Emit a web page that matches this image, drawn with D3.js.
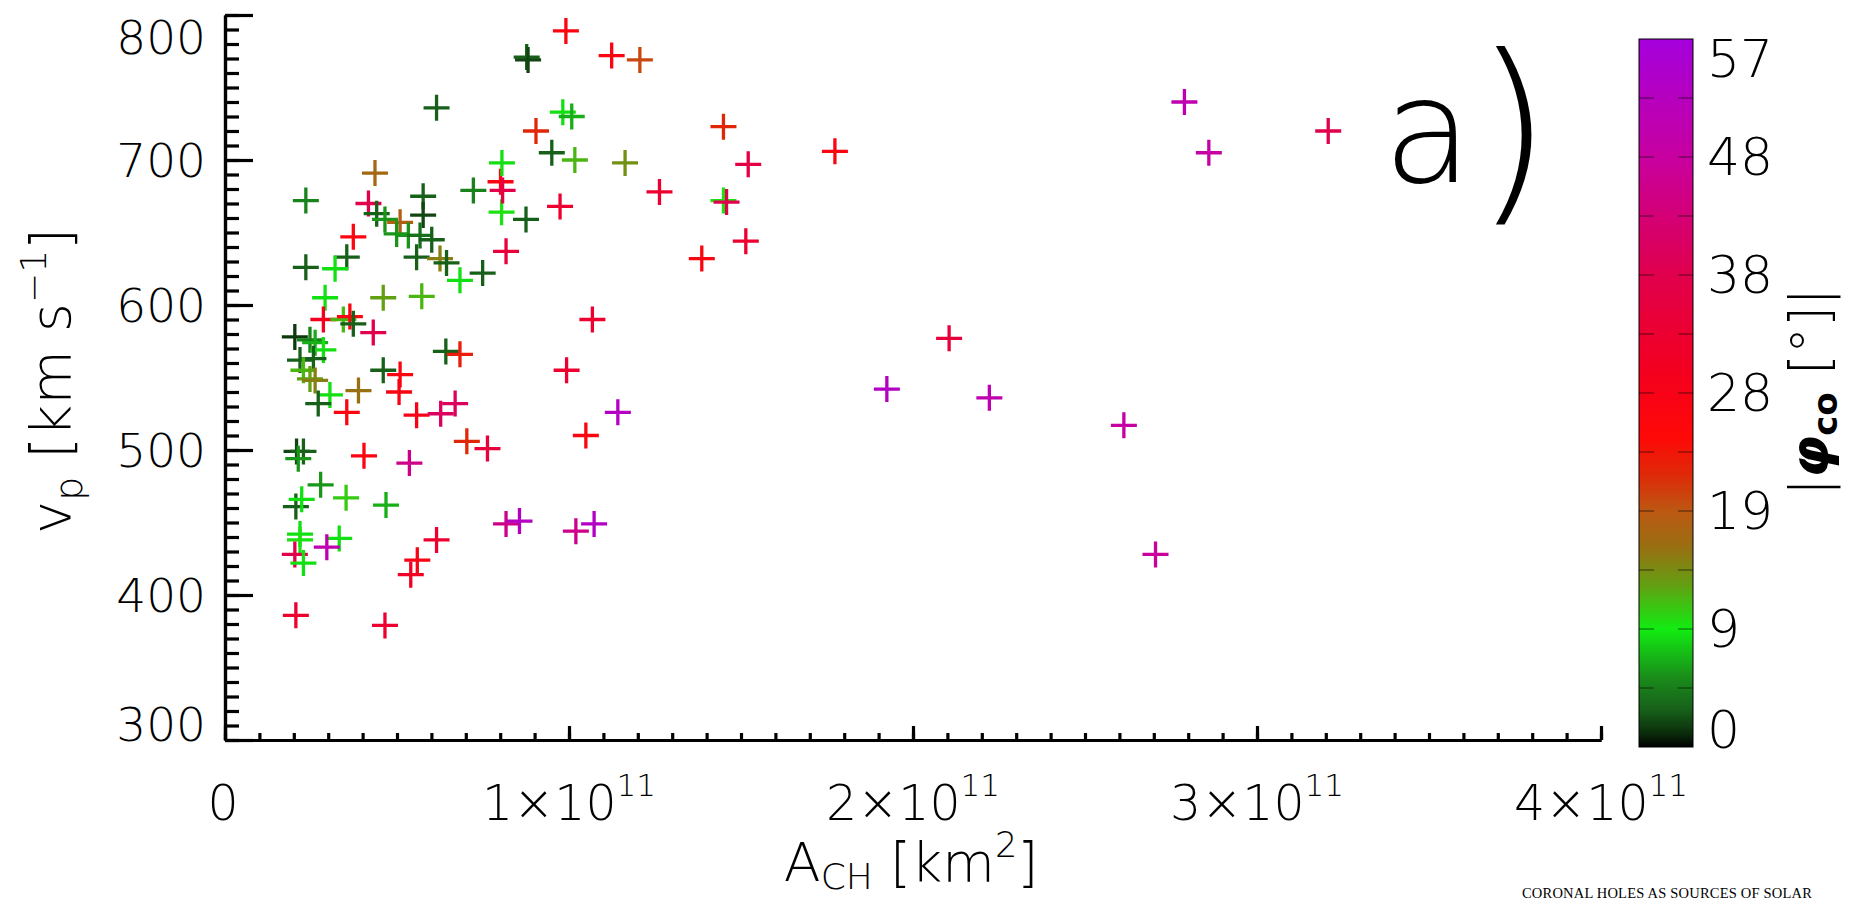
<!DOCTYPE html>
<html>
<head>
<meta charset="utf-8">
<script src="https://cdn.jsdelivr.net/npm/d3@7"></script>
<style>
body { margin: 0; background: #fff; }
text { font-family: "DejaVu Sans", sans-serif; font-weight: 200; fill: #000; }
</style>
</head>
<body>
<svg id="chart" width="1853" height="903"></svg>
<script>
// coronal hole area in units of 1e10 km^2
var area = [6.15, 4.36, 2.35, 4.17, 4.41, 5.76, 5.76, 4.65, 5.09, 4.99, 5.33, 5.67, 6.01, 3.73, 3.54, 3.20, 2.35, 5.57, 6.25, 6.44,
  6.83, 7.49, 7.22, 8.01, 8.05, 8.04, 2.91, 4.60, 5.72, 9.91, 8.77, 8.81, 11.24, 12.06, 9.82, 10.08, 9.04, 9.50, 10.17, 11.63,
  8.07, 8.75, 9.74, 8.17, 12.63, 14.49, 15.21, 14.49, 14.58, 13.86, 15.14, 2.86, 3.44, 3.63, 3.73, 4.31, 2.03, 2.47, 2.62, 2.86,
  2.18, 2.57, 2.28, 2.47, 2.62, 3.05, 3.88, 2.71, 3.54, 4.60, 5.09, 5.06, 6.42, 6.83, 5.57, 6.27, 6.69, 7.03, 7.63, 2.08,
  2.28, 2.13, 4.04, 5.36, 2.78, 3.52, 4.68, 2.06, 2.23, 2.18, 2.18, 3.32, 2.96, 2.03, 2.28, 6.15, 5.59, 5.40, 8.17, 2.06,
  4.65, 10.68, 9.93, 11.42, 10.49, 8.56, 10.20, 10.73, 17.73, 27.89, 28.60, 32.07, 21.05, 19.24, 22.22, 26.13, 27.05];
// peak solar wind speed, km/s
var speed = [736, 691, 672, 670, 663, 675, 662, 659, 657, 649, 648, 648, 645, 647, 633, 625, 626, 633, 632, 629,
  617, 622, 679, 685, 698, 664, 605, 605, 606, 789, 771, 769, 772, 769, 733, 730, 720, 705, 700, 698,
  679, 659, 668, 637, 678, 723, 697, 672, 671, 632, 644, 590, 590, 592, 587, 581, 578, 576, 574, 569,
  562, 563, 555, 549, 548, 538, 541, 532, 526, 555, 552, 540, 568, 566, 524, 525, 532, 506, 501, 499,
  499, 494, 496, 491, 476, 467, 462, 461, 466, 442, 438, 439, 433, 428, 422, 438, 424, 414, 449, 386,
  379, 590, 555, 526, 510, 451, 444, 449, 706, 740, 705, 720, 577, 542, 536, 517, 428];
// |phi_co| in degrees
var phi = [3, 17, 5, 38, 3, 3, 2, 6, 18, 6, 6, 4, 3, 27, 3, 9, 3, 3, 15, 3,
  9, 3, 5, 27, 9, 10, 9, 13, 12, 27, 3, 2, 27, 20, 9, 7, 22, 3, 12, 14,
  37, 3, 33, 35, 33, 22, 37, 10, 38, 27, 33, 30, 12, 27, 3, 38, 1.5, 5, 7, 9,
  3, 3, 12, 13, 15, 9, 16, 3, 27, 3, 27, 28, 3, 23, 28, 40, 40, 22, 35, 2,
  3, 6, 27, 45, 6, 11, 7, 3, 9, 9, 10, 9, 50, 38, 9, 33, 28, 31, 45, 33,
  33, 33, 33, 53, 27, 53, 45, 53, 27, 50, 48, 38, 35, 53, 50, 48, 47];

var xTicks = [0, 10, 20, 30, 40];
var yTicks = [300, 400, 500, 600, 700, 800];
var cbTicks = [0, 9.5, 19, 28.5, 38, 47.5, 57];
var cbLabels = ["0", "9", "19", "28", "38", "48", "57"];

// colour table of the colorbar
var rampStops = [0, 1.2, 3, 5.5, 9.5, 13, 16, 19, 22, 25, 30, 38, 47.5, 57];
var rampColors = ["#000000", "#0c300c", "#17601a", "#1a8a1a", "#12ec12", "#62a012", "#987012", "#bc5812",
  "#e02808", "#ff0808", "#f4001e", "#e0004c", "#c800a0", "#a400dc"];

var svg = d3.select("#chart");
svg.append("rect").attr("width", 1853).attr("height", 903).attr("fill", "#fff");

var x = d3.scaleLinear().domain([0, 40]).range([225, 1601]);
var y = d3.scaleLinear().domain([300, 800]).range([740, 15]);
var color = d3.scaleLinear().domain(rampStops).range(rampColors);

// y axis, ticks pointing in
svg.append("g").attr("transform", "translate(225,0)")
  .call(d3.axisRight(y).tickValues(d3.range(300, 801, 10)).tickSize(14).tickSizeOuter(0).tickFormat(""));
svg.append("g").attr("transform", "translate(225,0)")
  .call(d3.axisRight(y).tickValues(yTicks).tickSize(28).tickSizeOuter(0).tickFormat(""));
// x axis, ticks pointing up
svg.append("g").attr("transform", "translate(0,740)")
  .call(d3.axisTop(x).tickValues(d3.range(0, 41, 1)).tickSize(7).tickSizeOuter(0).tickFormat(""));
svg.append("g").attr("transform", "translate(0,740)")
  .call(d3.axisTop(x).tickValues(xTicks).tickSize(14).tickSizeOuter(0).tickFormat(""));

svg.selectAll(".domain").attr("stroke", "#000").attr("stroke-width", 3.2);
svg.selectAll(".tick line").attr("stroke", "#000").attr("stroke-width", 3.2);

// y tick labels
svg.append("g").selectAll("text").data(yTicks).join("text")
  .attr("x", 206)
  .attr("y", d => y(d) + (d === 800 ? 22 : d === 300 ? -16 : 0))
  .attr("dominant-baseline", "central")
  .attr("text-anchor", "end")
  .attr("font-size", 47)
  .text(d => d);

// x tick labels
svg.append("g").selectAll("text").data(xTicks).join("text")
  .attr("x", d => x(d) - (d === 0 ? 2 : 0))
  .attr("y", 820)
  .attr("text-anchor", "middle")
  .attr("font-size", 49)
  .each(function(d) {
    var t = d3.select(this);
    if (d === 0) { t.text("0"); return; }
    t.append("tspan").text((d / 10) + "×10");
    t.append("tspan").attr("dy", -24).attr("font-size", 31).text("11");
  });

// axis titles
var xt = svg.append("text").attr("x", 911).attr("y", 881).attr("text-anchor", "middle").attr("font-size", 54);
xt.append("tspan").text("A");
xt.append("tspan").attr("dy", 8).attr("font-size", 36).text("CH");
xt.append("tspan").attr("dy", -8).text(" [km");
xt.append("tspan").attr("dy", -24).attr("font-size", 35).text("2");
xt.append("tspan").attr("dy", 24).text("]");

var yt = svg.append("text").attr("transform", "translate(70,381) rotate(-90)")
  .attr("text-anchor", "middle").attr("font-size", 56);
yt.append("tspan").text("v");
yt.append("tspan").attr("dy", 12).attr("font-size", 38).text("p");
yt.append("tspan").attr("dy", -12).text(" [km s");
yt.append("tspan").attr("dy", -24).attr("font-size", 36).text("−1");
yt.append("tspan").attr("dy", 24).text("]");

// data points
svg.append("g").selectAll("path").data(d3.range(area.length)).join("path")
  .attr("transform", i => "translate(" + x(area[i]) + "," + y(speed[i]) + ")")
  .attr("d", "M-13,0H13M0,-13V13")
  .attr("fill", "none")
  .attr("stroke", i => color(phi[i]))
  .attr("stroke-width", 3.3);

// panel label
svg.append("text").attr("x", 1383).attr("y", 182).attr("font-size", 146).text("a");
svg.append("text").attr("x", 1474).attr("y", 198).attr("font-size", 200).text(")");

// colorbar
var cb = d3.scaleLinear().domain([0, 57]).range([747, 39]);
var grad = svg.append("defs").append("linearGradient").attr("id", "cbgrad")
  .attr("x1", 0).attr("y1", 1).attr("x2", 0).attr("y2", 0);
grad.selectAll("stop").data(d3.range(0, 57.01, 0.5)).join("stop")
  .attr("offset", d => d / 57)
  .attr("stop-color", d => color(d));
svg.append("rect").attr("x", 1639).attr("y", cb(57)).attr("width", 54).attr("height", cb(0) - cb(57))
  .attr("fill", "url(#cbgrad)").attr("stroke", "#000").attr("stroke-width", 1);

var cbDiv = d3.range(1, 12).map(i => i * 57 / 12);
svg.append("g").selectAll("path").data(cbDiv).join("path")
  .attr("d", d => "M1639," + cb(d) + "h15M1693," + cb(d) + "h-15")
  .attr("stroke", "#000").attr("stroke-opacity", 0.6).attr("stroke-width", 1);

svg.append("g").selectAll("text").data(cbTicks).join("text")
  .attr("x", 1707)
  .attr("y", d => cb(d) + (d === 57 ? 20 : d === 0 ? -17 : 0))
  .attr("dominant-baseline", "central")
  .attr("font-size", 52)
  .text((d, i) => cbLabels[i]);

var ct = svg.append("text").attr("transform", "translate(1828,392) rotate(-90)")
  .attr("text-anchor", "middle").attr("font-size", 54);
ct.append("tspan").text("|");
ct.append("tspan").attr("font-weight", "bold").attr("font-style", "italic").text("φ");
ct.append("tspan").attr("dy", 9).attr("font-size", 34).attr("font-weight", "bold").text("co");
ct.append("tspan").attr("dy", -9).text(" [°]|");

// running header of the source page, at the bottom edge
svg.append("text").attr("x", 1522).attr("y", 898)
  .style("font-family", "'Liberation Serif', serif").style("font-weight", 400)
  .attr("font-size", 14.5).attr("letter-spacing", 0.2)
  .text("CORONAL HOLES AS SOURCES OF SOLAR");
</script>
</body>
</html>
